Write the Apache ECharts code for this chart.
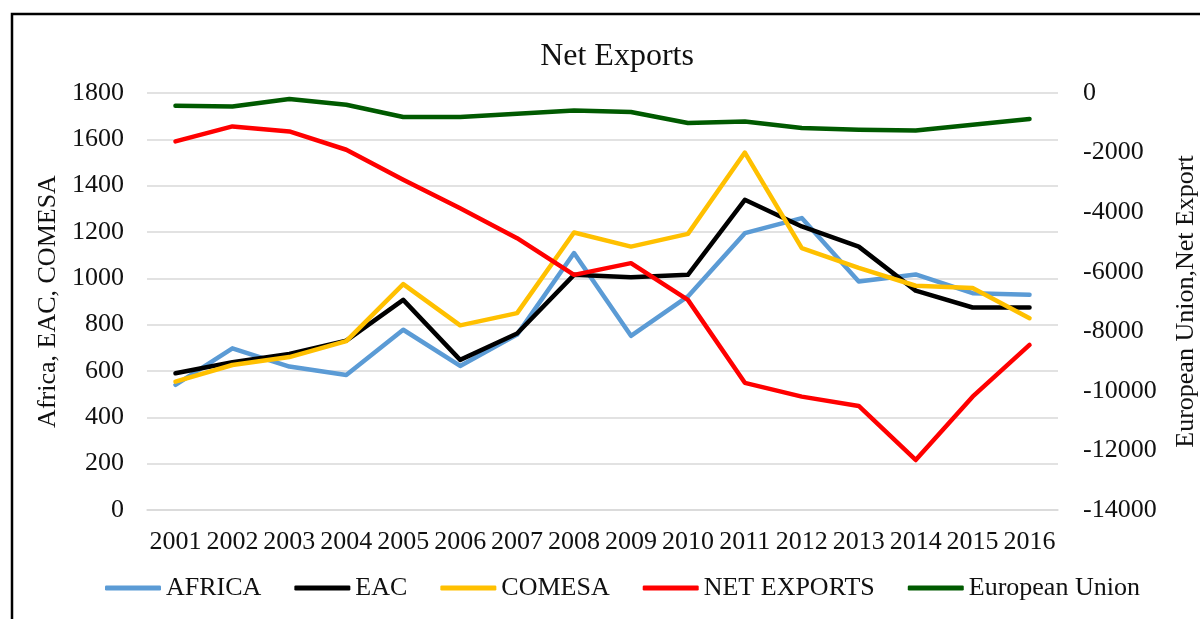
<!DOCTYPE html>
<html>
<head>
<meta charset="utf-8">
<title>Net Exports</title>
<script src="https://cdn.jsdelivr.net/npm/echarts@6/dist/echarts.min.js"></script>
<style>
  html, body { margin: 0; padding: 0; background: #fff; }
  #chart { width: 1200px; height: 619px; }
</style>
</head>
<body>
<div id="chart"></div>
<script>
const years = ['2001', '2002', '2003', '2004', '2005', '2006', '2007', '2008',
  '2009', '2010', '2011', '2012', '2013', '2014', '2015', '2016'];

// left axis series
const africa = [540, 698, 619, 583, 778, 622, 757, 1109, 752, 922, 1195, 1260, 986, 1017, 936, 929];
const eac = [590, 638, 674, 731, 907, 648, 762, 1015, 1005, 1015, 1339, 1224, 1137, 947, 874, 874];
const comesa = [554, 626, 660, 729, 975, 797, 850, 1198, 1137, 1192, 1543, 1130, 1045, 968, 958, 828];

// right axis series
const netExports = [-1626, -1122, -1290, -1905, -2913, -3870, -4873, -6105, -5713, -6945, -9730, -10194, -10507, -12321, -10194, -8457];
const europeanUnion = [-427, -450, -202, -393, -806, -806, -696, -584, -640, -1008, -960, -1176, -1233, -1256, -1065, -874];

const legendNames = ['AFRICA', 'EAC', 'COMESA', 'NET EXPORTS', 'European Union'];

const font = "'Liberation Serif', 'Times New Roman', serif";
const ink = '#111';

const chartDom = document.getElementById('chart');
const myChart = echarts.init(chartDom);

function lineSeries(name, data, color, axis) {
  return {
    name: name,
    type: 'line',
    yAxisIndex: axis,
    data: data,
    symbol: 'none',
    smooth: false,
    itemStyle: { color: color },
    lineStyle: { color: color, width: 4.5, cap: 'round', join: 'round' },
  };
}

const plain = (v) => String(v);

const option = {
  animation: false,
  backgroundColor: '#fff',
  textStyle: { fontFamily: font, color: ink },
  graphic: [
    {
      type: 'rect',
      shape: { x: 12, y: 14, width: 1210, height: 700 },
      style: { fill: 'none', stroke: '#000', lineWidth: 2.5 },
      silent: true,
    },
  ],
  title: {
    text: 'Net Exports',
    left: 612,
    top: 36,
    textAlign: 'center',
    textStyle: { fontFamily: font, fontSize: 32, fontWeight: 'normal', color: ink },
  },
  grid: { left: 147, right: 142, top: 93, bottom: 109, outerBoundsMode: 'none' },
  legend: {
    bottom: 13,
    left: 100,
    icon: 'roundRect',
    itemWidth: 56,
    itemHeight: 5,
    itemGap: 33,
    textStyle: { fontFamily: font, fontSize: 26, color: ink },
    data: legendNames,
  },
  xAxis: {
    type: 'category',
    data: years,
    boundaryGap: true,
    axisTick: { show: false },
    axisLine: { show: true, lineStyle: { color: '#d9d9d9', width: 1.5 } },
    axisLabel: { interval: 0, margin: 19, fontFamily: font, fontSize: 26, color: ink },
  },
  yAxis: [
    {
      type: 'value',
      min: 0,
      max: 1800,
      interval: 200,
      name: 'Africa, EAC, COMESA',
      nameLocation: 'middle',
      nameRotate: 90,
      nameGap: 84,
      nameTextStyle: { fontFamily: font, fontSize: 26, color: ink },
      axisLine: { show: false },
      axisTick: { show: false },
      axisLabel: { margin: 23, fontFamily: font, fontSize: 26, color: ink, formatter: plain },
      splitLine: { lineStyle: { color: '#d9d9d9', width: 1.5 } },
    },
    {
      type: 'value',
      min: -14000,
      max: 0,
      interval: 2000,
      name: 'European Union,Net Export',
      nameLocation: 'middle',
      nameRotate: 90,
      nameGap: 115,
      nameTextStyle: { fontFamily: font, fontSize: 26, color: ink },
      axisLine: { show: false },
      axisTick: { show: false },
      axisLabel: { margin: 25, fontFamily: font, fontSize: 26, color: ink, formatter: plain },
      splitLine: { show: false },
    },
  ],
  series: [
    lineSeries('AFRICA', africa, '#5B9BD5', 0),
    lineSeries('EAC', eac, '#000000', 0),
    lineSeries('COMESA', comesa, '#FFC000', 0),
    lineSeries('NET EXPORTS', netExports, '#FF0000', 1),
    lineSeries('European Union', europeanUnion, '#005A00', 1),
  ],
};

myChart.setOption(option);
</script>
</body>
</html>
